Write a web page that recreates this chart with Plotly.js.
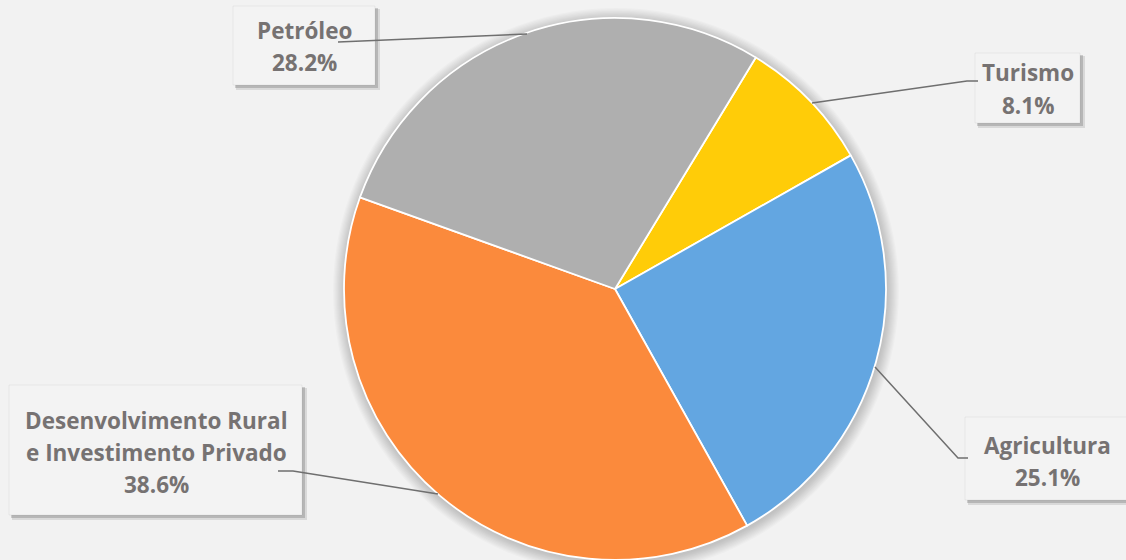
<!DOCTYPE html>
<html>
<head>
<meta charset="utf-8">
<script src="https://cdn.plot.ly/plotly-3.0.1.min.js"></script>
<style>html,body{margin:0;padding:0;background:#F2F2F2;}#chart{width:1126px;height:560px;}</style>
</head>
<body>
<div id="chart"></div>
<script>
// ---- data ----
var categories = ['Turismo', 'Agricultura', 'Desenvolvimento Rural e Investimento Privado', 'Petróleo'];
var values = [8.1, 25.1, 38.6, 28.2];
var sliceColors = ['#FFCC08', '#63A6E1', '#FB8A3C', '#AFAFAF'];
var labelLines = [['Turismo'], ['Agricultura'], ['Desenvolvimento Rural', 'e Investimento Privado'], ['Petróleo']];

// ---- layout helpers ----
var W = 1126, H = 560;
function X(px) { return px / W; }
function Y(py) { return 1 - py / H; }

var cx = 615, cy = 289, R = 271;

// label box geometry (pixels) and leader paths
var boxes = [
  {x0: 975, y0: 53, x1: 1080, y1: 123, tx: 1027.5, ty: 73, path: [[812,103],[967,81],[978,81]]},
  {x0: 965, y0: 417, x1: 1130, y1: 500, tx: 1047, ty: 445, path: [[875,367],[958,458],[968,458]]},
  {x0: 9, y0: 385, x1: 302, y1: 515, tx: 156, ty: 420, path: [[278,471],[293,471],[438,494]]},
  {x0: 233, y0: 6, x1: 375, y1: 85, tx: 304, ty: 30, path: [[338,42],[527,34]]}
];
var lineGap = 32;

var shapes = [];
// soft shadow around pie
for (var k = 1; k <= 10; k++) {
  var rr = R + k * 1.2;
  shapes.push({type: 'circle', layer: 'below', xref: 'paper', yref: 'paper',
    x0: X(cx + 1 - rr), x1: X(cx + 1 + rr), y0: Y(cy + 2 + rr), y1: Y(cy + 2 - rr),
    fillcolor: 'rgba(0,0,0,0.018)', line: {width: 0}});
}

var annotations = [];
boxes.forEach(function (b, i) {
  // shadow
  shapes.push({type: 'rect', layer: 'above', xref: 'paper', yref: 'paper',
    x0: X(b.x0 + 3), x1: X(b.x1 + 5), y0: Y(b.y1 + 5), y1: Y(b.y0 + 3),
    fillcolor: 'rgba(0,0,0,0.10)', line: {width: 0}});
  shapes.push({type: 'rect', layer: 'above', xref: 'paper', yref: 'paper',
    x0: X(b.x0 + 2), x1: X(b.x1 + 3), y0: Y(b.y1 + 3), y1: Y(b.y0 + 2),
    fillcolor: 'rgba(0,0,0,0.16)', line: {width: 0}});
  // box
  shapes.push({type: 'rect', layer: 'above', xref: 'paper', yref: 'paper',
    x0: X(b.x0), x1: X(b.x1), y0: Y(b.y1), y1: Y(b.y0),
    fillcolor: '#F3F3F3', line: {color: 'rgba(0,0,0,0.05)', width: 1}});
  // leader line
  var d = b.path.map(function (p, j) { return (j ? 'L' : 'M') + X(p[0]) + ',' + Y(p[1]); }).join(' ');
  shapes.push({type: 'path', layer: 'above', xref: 'paper', yref: 'paper', path: d,
    line: {color: '#6F6F6F', width: 1.5}});
  // text lines
  var lines = labelLines[i].concat([values[i].toFixed(1) + '%']);
  lines.forEach(function (t, j) {
    annotations.push({xref: 'paper', yref: 'paper', x: X(b.tx), y: Y(b.ty + j * lineGap),
      xanchor: 'center', yanchor: 'middle', showarrow: false, text: t,
      font: {family: 'Open Sans', size: 22.5, color: '#767272', weight: 700}});
  });
});

var trace = {
  type: 'pie',
  labels: categories,
  values: values,
  sort: false,
  direction: 'clockwise',
  rotation: 31.3,
  marker: {colors: sliceColors, line: {color: '#FFFFFF', width: 1.8}},
  textinfo: 'none',
  hoverinfo: 'skip',
  showlegend: false,
  domain: {x: [X(cx - R), X(cx + R)], y: [Y(cy + R), Y(cy - R)]}
};

var layout = {
  width: W, height: H,
  margin: {l: 0, r: 0, t: 0, b: 0},
  paper_bgcolor: '#F2F2F2',
  plot_bgcolor: '#F2F2F2',
  showlegend: false,
  shapes: shapes,
  annotations: annotations
};

Plotly.newPlot('chart', [trace], layout, {displayModeBar: false, staticPlot: true});
</script>
</body>
</html>
